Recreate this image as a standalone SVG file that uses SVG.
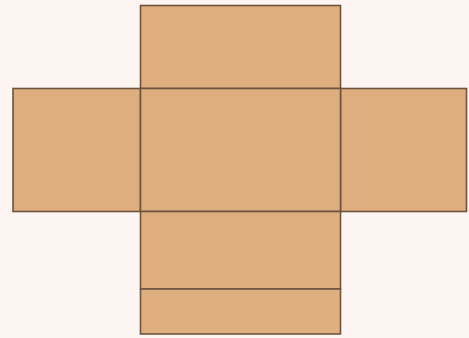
<svg xmlns="http://www.w3.org/2000/svg" width="469" height="338" viewBox="0 0 469 338">
<style>
.face{fill:#dfae7e;stroke:#6e5440;stroke-width:1.6}
</style>
<rect width="469" height="338" fill="#fcf5f1"/>
<g id="top"><rect class="face" x="140.5" y="5.5" width="200" height="83"/></g>
<g id="left"><rect class="face" x="13" y="88.5" width="127.5" height="123"/></g>
<g id="right"><rect class="face" x="340.5" y="88.5" width="126" height="123"/></g>
<g id="center"><rect class="face" x="140.5" y="88.5" width="200" height="123"/></g>
<g id="bottom"><rect class="face" x="140.5" y="211.5" width="200" height="77.5"/></g>
<g id="flap"><rect class="face" x="140.5" y="289" width="200" height="45"/></g>
</svg>
